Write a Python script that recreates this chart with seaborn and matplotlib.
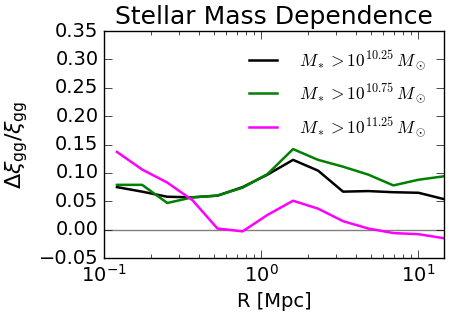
import matplotlib
matplotlib.use("Agg")
import matplotlib.pyplot as plt
import numpy as np
import pandas as pd
import seaborn as sns

# radial bins [Mpc]
r_mpc = [0.121, 0.175, 0.253, 0.366, 0.528, 0.764, 1.10, 1.60,
         2.31, 3.33, 4.82, 6.97, 10.07, 14.55]

frac_1025 = [0.075, 0.067, 0.058, 0.057, 0.060, 0.075, 0.097, 0.123,
             0.104, 0.067, 0.068, 0.066, 0.065, 0.054]
frac_1075 = [0.079, 0.079, 0.047, 0.057, 0.060, 0.074, 0.098, 0.142,
             0.123, 0.111, 0.097, 0.078, 0.088, 0.094]
frac_1125 = [0.137, 0.106, 0.083, 0.052, 0.002, -0.003, 0.026, 0.051,
             0.037, 0.015, 0.002, -0.006, -0.008, -0.015]

labels = [r"$M_*>10^{10.25}\,M_\odot$",
          r"$M_*>10^{10.75}\,M_\odot$",
          r"$M_*>10^{11.25}\,M_\odot$"]
colors = ["black", "green", "magenta"]

df = pd.concat([
    pd.DataFrame({"R": r_mpc, "frac": vals, "sample": lab})
    for vals, lab in zip([frac_1025, frac_1075, frac_1125], labels)
])

plt.style.use("classic")
plt.rcParams["mathtext.fontset"] = "cm"
plt.rcParams["font.family"] = ["DejaVu Sans"]

fig = plt.figure(figsize=(4.52, 3.17), dpi=100, facecolor="white")
ax = fig.add_axes([0.23, 0.186, 0.752, 0.716])

ax.axhline(0, color="gray", lw=1)
sns.lineplot(data=df, x="R", y="frac", hue="sample", palette=colors,
             lw=1.8, ax=ax, legend=True)

ax.set_xscale("log")
ax.set_xlim(0.1, 14.6)
ax.set_ylim(-0.05, 0.35)
ax.set_yticks(np.arange(-0.05, 0.351, 0.05))
ax.set_xlabel("R [Mpc]", fontsize=14)
ax.set_ylabel(r"$\Delta\xi_{\rm gg}/\xi_{\rm gg}$", fontsize=16,
              math_fontfamily="dejavusans", labelpad=6)
ax.set_title("Stellar Mass Dependence", fontsize=18, y=1.0)
ax.tick_params(labelsize=14)
ax.tick_params(which="major", length=6)
ax.tick_params(which="minor", length=3)

leg = ax.legend(loc="upper right", frameon=False, fontsize=12.5,
                handlelength=2.2, labelspacing=0.6, borderaxespad=0.6,
                handletextpad=1.0)
for h in leg.get_lines():
    h.set_linewidth(1.8)

fig.savefig("out.png", dpi=100, facecolor="white")
